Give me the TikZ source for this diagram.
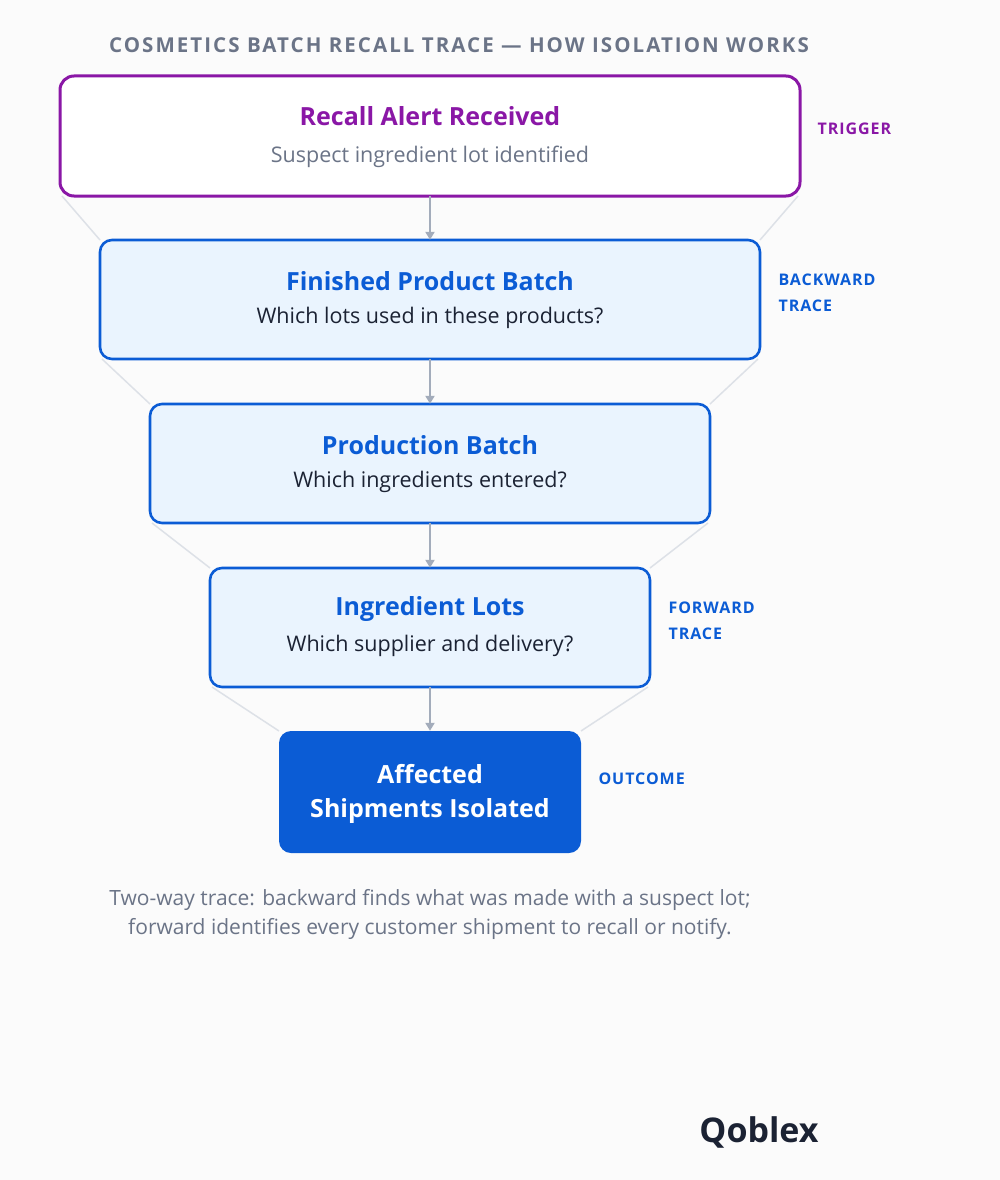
\documentclass[tikz,border=0pt]{standalone}
\usepackage{fontspec}
\setmainfont{Open Sans}
\usetikzlibrary{arrows.meta}
\definecolor{pur}{HTML}{8A17A6}
\definecolor{blu}{HTML}{0B5CD5}
\definecolor{lb}{HTML}{EAF4FE}
\definecolor{gr}{HTML}{6B7487}
\definecolor{dk}{HTML}{1B2233}
\definecolor{fun}{HTML}{DDE1E7}
\definecolor{arr}{HTML}{A3ACBB}
\begin{document}
\begin{tikzpicture}[x=1pt,y=-1pt,
 box/.style={draw=blu,line width=2.6pt,fill=lb,rounded corners=12pt},
 ttl/.style={font=\fontsize{25}{30}\selectfont\bfseries\color{blu}},
 sub/.style={font=\fontsize{21.5}{24}\selectfont\color{dk}},
 side/.style={anchor=west,align=left,font=\fontsize{16}{26}\selectfont\bfseries,text=blu},
 fl/.style={draw=fun,line width=1.5pt},
 ar/.style={draw=arr,line width=2.2pt,-{Triangle[length=8pt,width=9pt]}}]
\fill[white!97!gray] (0,0) rectangle (1000,1180);
\useasboundingbox (0,0) rectangle (1000,1180);
\node[font=\fontsize{20.5}{22}\selectfont\bfseries,text=gr] (title) at (459,45) {\addfontfeature{LetterSpace=10}COSMETICS BATCH RECALL TRACE — HOW ISOLATION WORKS};
% funnel lines
\draw[fl] (62,196) -- (100,240); \draw[fl] (798,196) -- (760,240);
\draw[fl] (102,359) -- (150,404); \draw[fl] (758,359) -- (710,404);
\draw[fl] (152,523) -- (210,568); \draw[fl] (708,523) -- (650,568);
\draw[fl] (212,687) -- (279,731); \draw[fl] (648,687) -- (581,731);
% boxes
\draw[draw=pur,line width=3pt,fill=white,rounded corners=14pt] (60,76) rectangle (800,196);
\node (b1) at (430,136) [minimum width=740pt,minimum height=120pt] {};
\node[font=\fontsize{25}{30}\selectfont\bfseries,text=pur] (t1) at (430,116) {Recall Alert Received};
\node[font=\fontsize{21.5}{24}\selectfont,text=gr] (s1) at (430,157) {Suspect ingredient lot identified};
\draw[box] (100,240) rectangle (760,359);
\node (b2) at (430,299.5) [minimum width=660pt,minimum height=119pt] {};
\node[ttl] (t2) at (430,281) {Finished Product Batch};
\node[sub] (s2) at (430,318) {Which lots used in these products?};
\draw[box] (150,404) rectangle (710,523);
\node (b3) at (430,463.5) [minimum width=560pt,minimum height=119pt] {};
\node[ttl] (t3) at (430,445) {Production Batch};
\node[sub] (s3) at (430,482) {Which ingredients entered?};
\draw[box] (210,568) rectangle (650,687);
\node (b4) at (430,627.5) [minimum width=440pt,minimum height=119pt] {};
\node[ttl] (t4) at (430,609) {Ingredient Lots};
\node[sub] (s4) at (430,646) {Which supplier and delivery?};
\node[fill=blu,rounded corners=12pt,minimum width=302pt,minimum height=122pt,inner sep=0pt] (b5) at (430,792) {};
\node[font=\fontsize{25}{34}\selectfont\bfseries,text=white,align=center] (t5) at (430,794) {Affected\\Shipments Isolated};
% arrows
\draw[ar] (b1.south) -- (b2.north);
\draw[ar] (b2.south) -- (b3.north);
\draw[ar] (b3.south) -- (b4.north);
\draw[ar] (b4.south) -- (b5.north);
% side labels
\node[side,text=pur] (l1) at (814,129) {\addfontfeature{LetterSpace=6}TRIGGER};
\node[side] (l2) at (775,293) {\addfontfeature{LetterSpace=6}BACKWARD\\\addfontfeature{LetterSpace=6}TRACE};
\node[side] (l3) at (665,621) {\addfontfeature{LetterSpace=6}FORWARD\\\addfontfeature{LetterSpace=6}TRACE};
\node[side] (l4) at (595,779) {\addfontfeature{LetterSpace=6}OUTCOME};
\node[font=\fontsize{21}{29}\selectfont,text=gr,align=center] (cap) at (430,914) {Two-way trace: backward finds what was made with a suspect lot;\\forward identifies every customer shipment to recall or notify.};
\node[font=\fontsize{34}{40}\selectfont\bfseries,text=dk] (logo) at (759,1132) {Qoblex};
\end{tikzpicture}
\end{document}
